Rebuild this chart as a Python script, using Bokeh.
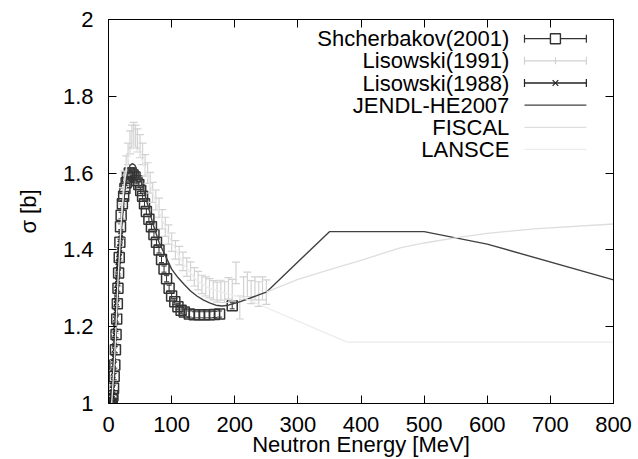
import math
from bokeh.plotting import figure
from bokeh.models import FixedTicker, LinearAxis, CustomJSTickFormatter, Range1d
from bokeh.core.properties import value
from bokeh.embed import file_html
from bokeh.resources import INLINE

# ---------------- data ----------------
x_ticks = [0, 100, 200, 300, 400, 500, 600, 700, 800]
y_ticks = [1.0, 1.2, 1.4, 1.6, 1.8, 2.0]

legend_labels = ["Shcherbakov(2001)", "Lisowski(1991)", "Lisowski(1988)",
                 "JENDL-HE2007", "FISCAL", "LANSCE"]

shch_e = [2, 3, 4, 5, 6, 7, 8, 9, 10, 11, 12, 13, 14, 15, 16, 17, 18, 19, 20, 22, 24, 26, 28,
          30, 33, 36, 39, 42, 45, 48, 51, 54, 57, 60, 64, 68, 72, 76, 80, 84, 88, 92, 96, 100,
          105, 110, 115, 120, 128, 136, 144, 152, 160, 168, 176, 196]
shch_s = [1.00, 1.00, 1.00, 1.00, 1.01, 1.02, 1.04, 1.07, 1.10, 1.14, 1.18, 1.22, 1.26, 1.30,
          1.34, 1.38, 1.42, 1.46, 1.49, 1.52, 1.54, 1.56, 1.575, 1.59, 1.60, 1.60, 1.595, 1.59,
          1.58, 1.57, 1.555, 1.54, 1.52, 1.50, 1.48, 1.46, 1.44, 1.42, 1.40, 1.375, 1.35,
          1.325, 1.30, 1.28, 1.265, 1.252, 1.243, 1.238, 1.233, 1.231, 1.231, 1.231, 1.231,
          1.232, 1.233, 1.2545]
shch_err = [0.008] * 56

lis91_e = [5, 7, 9, 11, 13, 15, 17, 19, 21, 23, 25, 28, 31, 34, 37, 40, 43, 46, 50, 54, 58, 62,
           66, 70, 75, 80, 85, 90, 95, 100, 106, 112, 118, 124, 130, 136, 142, 148, 154, 160,
           166, 172, 178, 184, 190, 196, 202, 208, 214, 220, 226, 232, 238, 244, 250]
lis91_s = [1.01, 1.04, 1.10, 1.17, 1.25, 1.32, 1.39, 1.45, 1.50, 1.54, 1.58, 1.62, 1.65, 1.68,
           1.695, 1.70, 1.695, 1.685, 1.67, 1.65, 1.62, 1.60, 1.575, 1.55, 1.53, 1.51, 1.48,
           1.46, 1.44, 1.42, 1.40, 1.385, 1.37, 1.355, 1.345, 1.33, 1.32, 1.31, 1.305, 1.30,
           1.295, 1.29, 1.295, 1.29, 1.30, 1.295, 1.34, 1.25, 1.30, 1.31, 1.29, 1.30, 1.285,
           1.30, 1.29]
lis91_err = [0.01, 0.01, 0.012, 0.012, 0.015, 0.015, 0.018, 0.02, 0.02, 0.022, 0.025, 0.025,
             0.028, 0.03, 0.03, 0.032, 0.03, 0.03, 0.03, 0.028, 0.028, 0.027, 0.027, 0.026,
             0.026, 0.025, 0.025, 0.025, 0.025, 0.024, 0.024, 0.024, 0.024, 0.024, 0.024,
             0.024, 0.024, 0.024, 0.025, 0.025, 0.025, 0.026, 0.026, 0.027, 0.028, 0.028,
             0.028, 0.03, 0.03, 0.032, 0.03, 0.03, 0.032, 0.03, 0.032]

lis88_e = [3.0, 3.5, 4.0, 4.5, 5.0, 5.5, 6.0, 6.5, 7.0, 7.5, 8.0, 8.5, 9.0, 9.5, 10.0, 10.5,
           11.0, 11.5, 12.0, 12.5, 13.0, 13.5, 14.0, 14.5, 15.0, 15.5, 16.0, 16.5, 17.0, 17.5,
           18.0, 19.0, 20.0]
lis88_s = [0.99, 1.00, 1.00, 1.01, 1.01, 1.02, 1.03, 1.04, 1.06, 1.08, 1.10, 1.12, 1.14, 1.16,
           1.18, 1.20, 1.22, 1.24, 1.26, 1.27, 1.29, 1.30, 1.32, 1.33, 1.35, 1.36, 1.37, 1.38,
           1.39, 1.40, 1.41, 1.43, 1.44]
lis88_err = [0.012] * 33

jendl_e = [5, 7, 9, 11, 13, 15, 17, 19, 21, 24, 27, 30, 34, 38, 42, 46, 50, 55, 60, 65, 70,
           80, 90, 100, 110, 120, 130, 140, 150, 160, 170, 180, 190, 200, 210, 220, 230, 240,
           250, 350, 500, 600, 800]
jendl_s = [1.00, 1.03, 1.08, 1.15, 1.22, 1.29, 1.35, 1.41, 1.46, 1.52, 1.57, 1.60, 1.62, 1.625,
           1.62, 1.605, 1.585, 1.56, 1.53, 1.50, 1.47, 1.42, 1.385, 1.35, 1.328, 1.31, 1.293,
           1.28, 1.27, 1.262, 1.256, 1.254, 1.256, 1.261, 1.266, 1.272, 1.278, 1.284, 1.29,
           1.4475, 1.4475, 1.415, 1.322]

fiscal_e = [250, 300, 357, 400, 462, 500, 552, 600, 674, 800]
fiscal_s = [1.29, 1.323, 1.352, 1.373, 1.405, 1.418, 1.432, 1.443, 1.455, 1.4675]

lansce_e = [5, 10, 15, 20, 25, 30, 35, 40, 50, 60, 70, 80, 100, 120, 140, 160, 180, 200, 214,
            378, 800]
lansce_s = [1.00, 1.13, 1.32, 1.47, 1.57, 1.63, 1.66, 1.67, 1.65, 1.60, 1.55, 1.50, 1.42, 1.36,
            1.32, 1.30, 1.29, 1.28, 1.275, 1.16, 1.16]

# ---------------- style ----------------
FONT = "Liberation Sans"
FS = "22px"
C_SH = "#333333"
C_91 = "#d2d2d2"
C_88 = "#222222"
C_JE = "#404040"
C_FI = "#dedede"
C_LA = "#ececec"

p = figure(width=638, height=459, x_range=Range1d(0, 800), y_range=Range1d(1, 2),
           output_backend="svg", toolbar_location=None,
           min_border_left=108, min_border_right=25, min_border_top=19, min_border_bottom=55)
p.grid.visible = False
p.outline_line_color = "black"
p.outline_line_width = 1
p.background_fill_color = "white"
p.border_fill_color = "white"

fmt_y = CustomJSTickFormatter(code="return String(Math.round(tick*10)/10);")
fmt_none = CustomJSTickFormatter(code="return '';")


def style_axis(ax):
    ax.major_tick_in = 8
    ax.major_tick_out = 0
    ax.minor_tick_line_color = None
    ax.axis_line_color = "black"
    ax.major_tick_line_color = "black"
    ax.major_label_text_font = FONT
    ax.major_label_text_font_size = FS
    ax.major_label_text_color = "black"
    ax.axis_label_text_font = FONT
    ax.axis_label_text_font_size = FS
    ax.axis_label_text_font_style = "normal"
    ax.axis_label_text_color = "black"


xa = p.xaxis[0]
style_axis(xa)
xa.ticker = FixedTicker(ticks=x_ticks)
xa.axis_label = "Neutron Energy [MeV]"
xa.major_label_standoff = 13
xa.axis_label_standoff = -3

ya = p.yaxis[0]
style_axis(ya)
ya.ticker = FixedTicker(ticks=y_ticks)
ya.formatter = fmt_y
ya.axis_label = "σ [b]"
ya.major_label_standoff = 15
ya.axis_label_standoff = 19

top = LinearAxis(ticker=FixedTicker(ticks=x_ticks), formatter=fmt_none)
style_axis(top)
top.major_label_text_font_size = "0px"
top.major_label_standoff = 0
p.add_layout(top, "above")

right = LinearAxis(ticker=FixedTicker(ticks=y_ticks), formatter=fmt_none)
style_axis(right)
right.major_label_text_font_size = "0px"
right.major_label_standoff = 0
p.add_layout(right, "right")


def errbars(xs, ys, errs, color, cap, width=1.0):
    lo = [y - e for y, e in zip(ys, errs)]
    hi = [y + e for y, e in zip(ys, errs)]
    p.segment(x0=xs, y0=lo, x1=xs, y1=hi, line_color=color, line_width=width)
    p.scatter(x=xs + xs, y=lo + hi, marker="dash", size=cap, line_color=color,
              line_width=width)


# Shcherbakov(2001)
errbars(shch_e, shch_s, shch_err, C_SH, 5, 1.0)
p.scatter(x=shch_e, y=shch_s, marker="square", size=10, fill_color=None,
          line_color=C_SH, line_width=1.5)

# Lisowski(1991)
errbars(lis91_e, lis91_s, lis91_err, C_91, 8, 1.2)

# Lisowski(1988)
errbars(lis88_e, lis88_s, lis88_err, C_88, 5, 1.0)
p.scatter(x=lis88_e, y=lis88_s, marker="x", size=6, line_color=C_88, line_width=1.2)

# JENDL-HE2007
p.line(x=jendl_e, y=jendl_s, line_color=C_JE, line_width=1.4)
# FISCAL
p.line(x=fiscal_e, y=fiscal_s, line_color=C_FI, line_width=1.3)
# LANSCE
p.line(x=lansce_e, y=lansce_s, line_color=C_LA, line_width=1.3)

# ---------------- legend (gnuplot style: text right-aligned, sample on the right) -----------
leg_text_x = 635
leg_x0, leg_x1 = 659, 757
leg_xm = (leg_x0 + leg_x1) / 2
leg_rows = [1.9500, 1.8923, 1.8346, 1.7770, 1.7193, 1.6616]
leg_colors = [C_SH, C_91, C_88, C_JE, C_FI, C_LA]

p.text(x=[leg_text_x] * 6, y=leg_rows, text=legend_labels, text_font=value(FONT),
       text_font_size=FS, text_align="right", text_baseline="middle", text_color="black")
p.segment(x0=[leg_x0] * 6, y0=leg_rows, x1=[leg_x1] * 6, y1=leg_rows,
          line_color=leg_colors, line_width=1.3)
cap_rows = leg_rows[:3]
cap_cols = leg_colors[:3]
p.scatter(x=[leg_x0] * 3 + [leg_x1] * 3, y=cap_rows + cap_rows, marker="dash",
          angle=math.pi / 2, size=8, line_color=cap_cols + cap_cols, line_width=1.2)
p.scatter(x=[leg_xm], y=[leg_rows[0]], marker="square", size=10, fill_color="white",
          line_color=C_SH, line_width=1.4)
p.scatter(x=[leg_xm], y=[leg_rows[1]], marker="dash", angle=math.pi / 2, size=7,
          line_color=C_91, line_width=1.2)
p.scatter(x=[leg_xm], y=[leg_rows[2]], marker="x", size=8, line_color=C_88, line_width=1.2)

open("out.html", "w").write(file_html(p, INLINE))
